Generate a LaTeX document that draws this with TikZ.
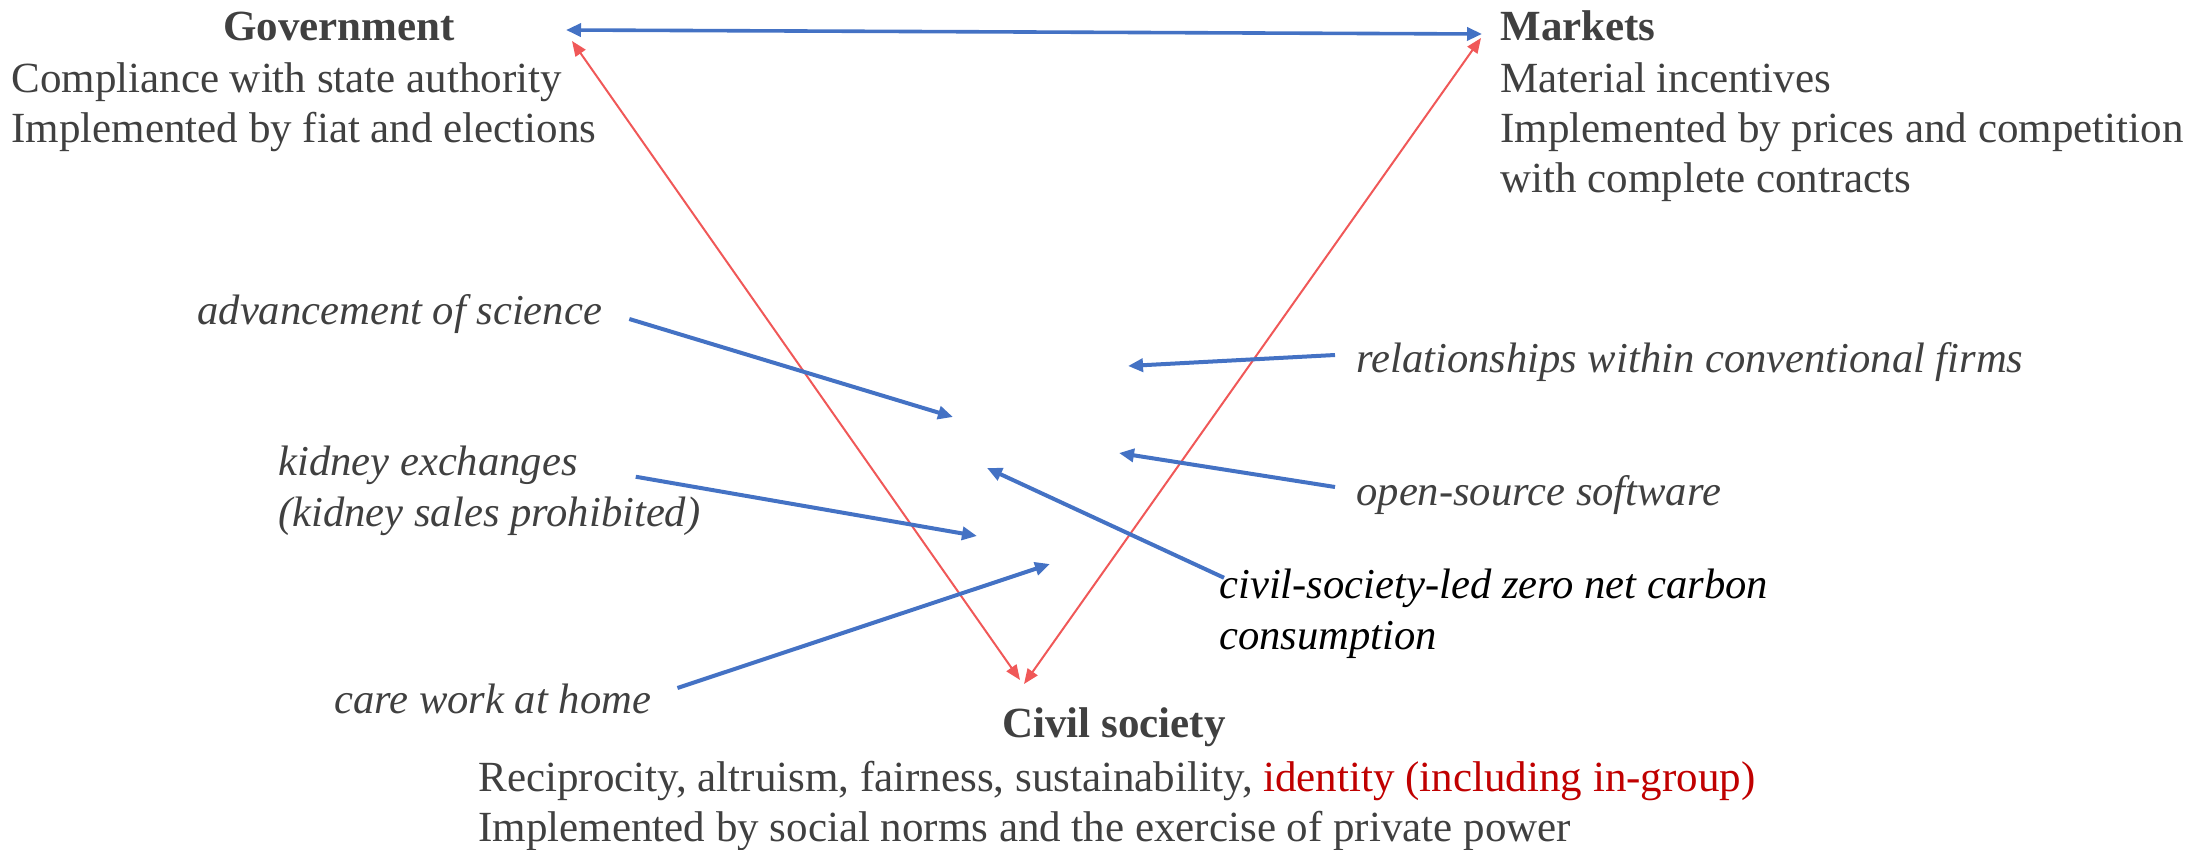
\documentclass[tikz,border=0pt]{standalone}
\usepackage{fontspec}
\setmainfont{Liberation Serif}
\usetikzlibrary{arrows.meta}

\definecolor{txtgray}{RGB}{64,64,64}
\definecolor{linkblue}{RGB}{68,114,196}
\definecolor{linkred}{RGB}{240,88,88}
\definecolor{idred}{RGB}{192,0,0}

\tikzset{
  title/.style={font=\fontsize{21.5}{25}\selectfont\bfseries, text=txtgray, inner sep=0pt},
  body/.style={font=\fontsize{21.5}{25}\selectfont, text=txtgray, align=left, inner sep=0pt},
  case/.style={font=\fontsize{21.3}{25.5}\selectfont\itshape, text=txtgray, align=left, inner sep=0pt},
  bluelink/.style={draw=linkblue, line width=2pt, -{Triangle[length=7.5pt,width=6.5pt]}},
  bluetwin/.style={draw=linkblue, line width=1.8pt, {Triangle[length=7.5pt,width=6.5pt]}-{Triangle[length=7.5pt,width=6.5pt]}},
  redlink/.style={draw=linkred, line width=1pt, {Triangle[length=7.5pt,width=6pt]}-{Triangle[length=7.5pt,width=6pt]}},
}

\begin{document}
\begin{tikzpicture}[x=0.5pt, y=-0.5pt]
  \useasboundingbox (0,0) rectangle (2203,850);

  % the three corners
  \node[title] (gov) at (339,26) {Government};
  \node[body, anchor=west] (govtxt) at (11,107) {Compliance with state authority\\Implemented by fiat and elections};

  \node[title, anchor=west] (mkt) at (1500,26) {Markets};
  \node[body, anchor=west] (mkttxt) at (1500,132) {Material incentives\\Implemented by prices and competition\\with complete contracts};

  \node[title] (civ) at (1114,727) {Civil society};
  \node[body, anchor=west] (civtxt) at (478,806) {Reciprocity, altruism, fairness, sustainability, \textcolor{idred}{identity (including in-group)}\\Implemented by social norms and the exercise of private power};

  % cases
  \node[case, anchor=west] (adv) at (197,314) {advancement of science};
  \node[case, anchor=west] (rel) at (1356,362) {relationships within conventional firms};
  \node[case, anchor=west] (kid) at (278,491) {kidney exchanges\\(kidney sales prohibited)};
  \node[case, anchor=west] (oss) at (1356,495) {open-source software};
  \node[case, anchor=west, text=black] (carb) at (1219,614) {civil-society-led zero net carbon\\consumption};
  \node[case, anchor=west] (care) at (334,699) {care work at home};

  % arrow ends
  \coordinate (gtip) at (566,30);
  \coordinate (mtip) at (1482,34);
  \coordinate (gred) at (572,41);
  \coordinate (mred) at (1481,38);
  \coordinate (cleft) at (1020,680);
  \coordinate (cright) at (1024,684);
  \coordinate (advtip) at (953,417);
  \coordinate (reltip) at (1128,366);
  \coordinate (kidtip) at (977,536);
  \coordinate (osstip) at (1119,453);
  \coordinate (carbtip) at (987,468);
  \coordinate (caretip) at (1050,564);

  \draw[bluetwin] (gtip) -- (mtip);
  \draw[redlink] (gred) -- (cleft);
  \draw[redlink] (mred) -- (cright);

  \draw[bluelink] ([shift={(27,5)}]adv.east) -- (advtip);
  \draw[bluelink] ([shift={(-21,-7)}]rel.west) -- (reltip);
  \draw[bluelink] ([shift={(-65,31)}]kid.north east) -- (kidtip);
  \draw[bluelink] ([shift={(-21,-8)}]oss.west) -- (osstip);
  \draw[bluelink] ([shift={(5,9)}]carb.north west) -- (carbtip);
  \draw[bluelink] ([shift={(26,-11)}]care.east) -- (caretip);
\end{tikzpicture}
\end{document}
